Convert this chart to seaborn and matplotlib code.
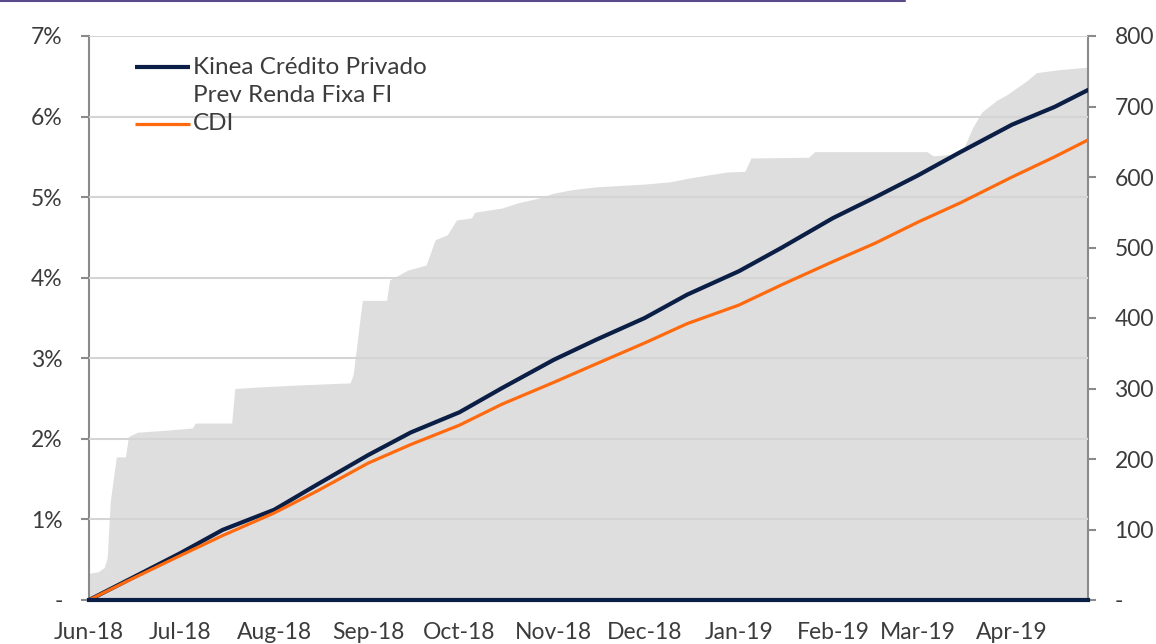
import matplotlib
matplotlib.use("Agg")
import matplotlib.pyplot as plt
import matplotlib.dates as mdates
import numpy as np
import pandas as pd
import seaborn as sns

# assets under management (right axis)
aum_dates = ["2018-06-01", "2018-06-04", "2018-06-06", "2018-06-07", "2018-06-08", "2018-06-10",
             "2018-06-13", "2018-06-14", "2018-06-17", "2018-06-27", "2018-07-05", "2018-07-06",
             "2018-07-18", "2018-07-19", "2018-07-26", "2018-08-09", "2018-08-26", "2018-08-27",
             "2018-08-30", "2018-09-07", "2018-09-08", "2018-09-14", "2018-09-20", "2018-09-23",
             "2018-09-27", "2018-09-30", "2018-10-05", "2018-10-06", "2018-10-15", "2018-10-20",
             "2018-10-27", "2018-11-01", "2018-11-07", "2018-11-15", "2018-11-27", "2018-12-01",
             "2018-12-09", "2018-12-15", "2018-12-22", "2018-12-28", "2019-01-03", "2019-01-05",
             "2019-01-24", "2019-01-26", "2019-03-04", "2019-03-06", "2019-03-12", "2019-03-16",
             "2019-03-19", "2019-03-22", "2019-03-27", "2019-03-30", "2019-04-06", "2019-04-09",
             "2019-04-16", "2019-04-26"]
aum_values = [38, 40, 46, 60, 140, 203,
              203, 232, 238, 241, 244, 251,
              251, 300, 302, 305, 308, 320,
              425, 425, 454, 468, 475, 511,
              518, 539, 542, 550, 556, 563,
              570, 577, 582, 586, 589, 590,
              593, 598, 603, 607, 608, 627,
              628, 636, 636, 630, 632, 640,
              670, 692, 709, 716, 737, 748,
              752, 756]

# cumulative returns (left axis, %)
ret_dates = ["2018-06-01", "2018-06-15", "2018-07-01", "2018-07-15", "2018-08-01", "2018-08-15",
             "2018-09-01", "2018-09-15", "2018-10-01", "2018-10-15", "2018-11-01", "2018-11-15",
             "2018-12-01", "2018-12-15", "2019-01-01", "2019-01-15", "2019-02-01", "2019-02-15",
             "2019-03-01", "2019-03-15", "2019-04-01", "2019-04-15", "2019-04-26"]
kinea = [0.00, 0.27, 0.58, 0.87, 1.12, 1.43,
         1.80, 2.08, 2.33, 2.63, 2.98, 3.23,
         3.50, 3.79, 4.08, 4.37, 4.74, 5.00,
         5.27, 5.56, 5.90, 6.12, 6.33]
cdi = [0.00, 0.26, 0.55, 0.80, 1.08, 1.35,
       1.70, 1.93, 2.17, 2.43, 2.70, 2.93,
       3.19, 3.43, 3.66, 3.91, 4.20, 4.43,
       4.69, 4.93, 5.25, 5.50, 5.71]

left_ticks = [0, 1, 2, 3, 4, 5, 6, 7]
left_labels = ["-", "1%", "2%", "3%", "4%", "5%", "6%", "7%"]
right_ticks = [0, 100, 200, 300, 400, 500, 600, 700, 800]
right_labels = ["-", "100", "200", "300", "400", "500", "600", "700", "800"]
label_kinea = "Kinea Crédito Privado\nPrev Renda Fixa FI"
label_cdi = "CDI"

navy = "#0b1e45"
orange = "#ff6a0f"
grey_fill = "#dedede"
txt = "#3c3c3c"

sns.set_style("white")
plt.rcParams['font.family'] = ['Lato', 'DejaVu Sans']

aum = pd.DataFrame({"date": pd.to_datetime(aum_dates), "aum": aum_values})
rets = pd.DataFrame({"date": pd.to_datetime(ret_dates), "kinea": kinea, "cdi": cdi})

fig = plt.figure(figsize=(11.56, 6.44), dpi=100)
ax = fig.add_axes([89 / 1156, 44 / 644, (1088 - 89) / 1156, (600 - 36) / 644])
ax2 = ax.twinx()

# grey area on the secondary axis, behind everything
ax2.fill_between(aum["date"], 0, aum["aum"], color=grey_fill, lw=0)
ax2.set_ylim(0, 800)
ax2.set_yticks(right_ticks)
ax2.set_yticklabels(right_labels)

ax.set_zorder(ax2.get_zorder() + 1)
ax.patch.set_visible(False)

sns.lineplot(data=rets, x="date", y="kinea", ax=ax, color=navy, lw=3.0, zorder=4)
sns.lineplot(data=rets, x="date", y="cdi", ax=ax, color=orange, lw=2.3, zorder=5)

ax.set_ylim(0, 7)
ax.set_yticks(left_ticks)
ax.set_yticklabels(left_labels)
ax.set_xlim(pd.Timestamp("2018-06-01"), pd.Timestamp("2019-04-26"))
ax.xaxis.set_major_locator(mdates.MonthLocator())
ax.xaxis.set_major_formatter(mdates.DateFormatter("%b-%y"))
ax.set_xlabel("")
ax.set_ylabel("")
ax.grid(axis="y", color="#d4d4d4", lw=1.5)
ax.set_axisbelow(False)

for a in (ax, ax2):
    a.spines["top"].set_visible(False)
ax.spines["left"].set_color("#8a8a8a")
ax.spines["left"].set_linewidth(1.5)
ax.spines["right"].set_visible(False)
ax2.spines["right"].set_color("#8a8a8a")
ax2.spines["right"].set_linewidth(1.5)
ax2.spines["left"].set_visible(False)
ax2.spines["bottom"].set_visible(False)
ax.spines["bottom"].set_color(navy)
ax.spines["bottom"].set_linewidth(3)
ax.spines["bottom"].set_zorder(6)

ax.tick_params(axis="y", length=6, width=1.5, color="#8a8a8a", labelsize=16.5,
               labelcolor=txt, pad=13)
ax2.tick_params(axis="y", length=6, width=1.5, color="#8a8a8a", labelsize=16.5,
                labelcolor=txt, pad=13)
ax.tick_params(axis="x", length=6, width=3.5, color=navy, labelsize=16.5,
               labelcolor=txt, pad=10)

# legend drawn by hand so the handle sits on the first label line
px = 1 / 564
kinea_lines = label_kinea.split("\n")
ax.plot([0.046, 0.101], [(600 - 67) * px] * 2, transform=ax.transAxes, color=navy, lw=3.0,
        solid_capstyle="butt", zorder=7)
ax.plot([0.046, 0.101], [(600 - 124) * px] * 2, transform=ax.transAxes, color=orange, lw=2.3,
        solid_capstyle="butt", zorder=7)
for ypix, lab in [(67, kinea_lines[0]), (96, kinea_lines[1]), (124, label_cdi)]:
    ax.text(0.104, (600 - ypix) * px, lab, transform=ax.transAxes, fontsize=17.5, color=txt,
            va="center", ha="left", zorder=7)

# remains of the cropped title border at the very top
fig.add_artist(plt.Line2D([0, 905 / 1156], [0.998, 0.998], color="#5b4a8a", lw=1.5))

fig.savefig("out.png", dpi=100)
